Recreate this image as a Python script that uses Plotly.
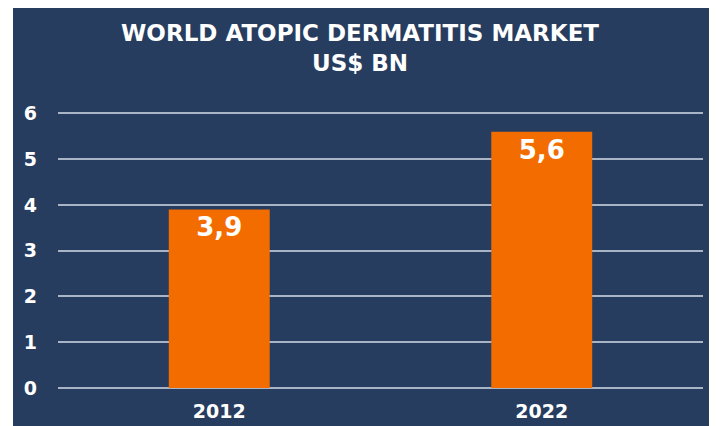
import plotly.graph_objects as go

years = ["2012", "2022"]
values = [3.9, 5.6]
value_labels = ["3,9", "5,6"]
y_ticks = [0, 1, 2, 3, 4, 5, 6]

NAVY = "#263d5f"
ORANGE = "#f36c00"
GRID = "#a9b4c6"
FONT = "DejaVu Sans"

W, H = 717, 426
OFF = 8  # page body margin offset
L, R, T, B = 58 - OFF, W - 703 + OFF, 112 - OFF, H - 388 + OFF
pw = W - L - R
ph = H - T - B

fig = go.Figure()
fig.add_trace(go.Bar(
    x=years, y=values,
    marker=dict(color=ORANGE, line=dict(width=0)),
    text=value_labels, textposition="inside", insidetextanchor="end",
    textfont=dict(color="white", size=26, family=FONT, weight="bold"),
    cliponaxis=False,
))

# navy panel (screen left edge 13, top edge 7)
fig.add_shape(type="rect", xref="paper", yref="paper", layer="below",
              x0=(13 - OFF - L) / pw, x1=(W + 20 - L) / pw,
              y0=-(B + 20) / ph, y1=(T + ph - (7 - OFF)) / ph,
              fillcolor=NAVY, line=dict(width=0))

title_lines = ["WORLD ATOPIC DERMATITIS MARKET", "US$ BN"]
title_y = [33, 63]
for txt, ty in zip(title_lines, title_y):
    fig.add_annotation(
        text=txt, xref="paper", yref="paper",
        x=(360 - OFF - L) / pw, y=(T + ph - (ty - OFF)) / ph,
        xanchor="center", yanchor="middle", showarrow=False,
        font=dict(color="white", size=23, family=FONT, weight="bold"),
    )

fig.update_layout(
    width=W, height=H,
    margin=dict(l=L, r=R, t=T, b=B, pad=0),
    paper_bgcolor="white",
    plot_bgcolor="rgba(0,0,0,0)",
    showlegend=False,
    bargap=0.687,
    xaxis=dict(showgrid=False, showline=False, ticks="", ticklabelstandoff=10,
               tickfont=dict(color="white", size=19, family=FONT, weight="bold")),
    yaxis=dict(range=[0, 6.03], tickvals=y_ticks, showgrid=True,
               gridcolor=GRID, gridwidth=2, zeroline=True,
               zerolinecolor=GRID, zerolinewidth=2, showline=False,
               ticks="", ticklabelstandoff=20,
               tickfont=dict(color="white", size=19, family=FONT, weight="bold")),
)

fig.write_html("out.html")
